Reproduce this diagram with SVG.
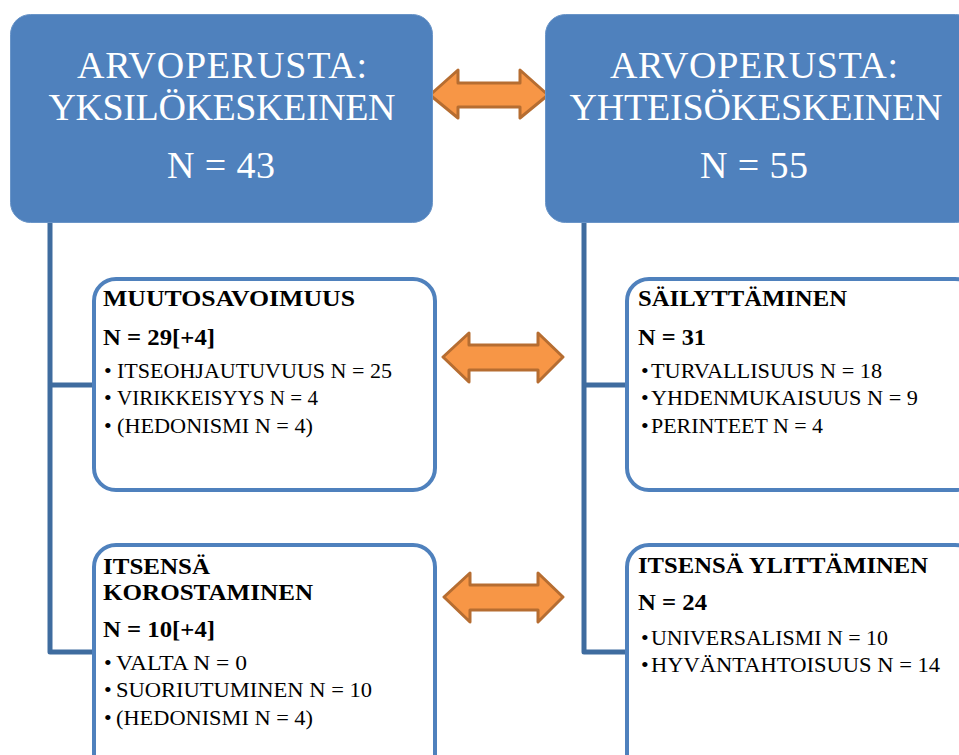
<svg xmlns="http://www.w3.org/2000/svg" width="959" height="755" viewBox="0 0 959 755">
<style>
.top{fill:#4F81BD;stroke:#6A95C8;stroke-width:1}
.box{fill:#FFFFFF;stroke:#4F81BD;stroke-width:4}
.conn{fill:none;stroke:#3F6C9F;stroke-width:5;stroke-linejoin:round}
.arr{fill:#F79646;stroke:#B66D31;stroke-width:3;stroke-linejoin:round}
.tt{font-family:"Liberation Serif","Times New Roman",serif;font-size:38px;fill:#FFFFFF;text-anchor:middle}
.h{font-family:"Liberation Serif","Times New Roman",serif;font-size:24px;font-weight:bold;fill:#000000}
.b{font-family:"Liberation Serif","Times New Roman",serif;font-size:22px;fill:#000000}
</style>
<rect width="959" height="755" fill="#FFFFFF"/>
<g id="connectors">
<path class="conn" d="M50,222 V652 H95 M50,385 H95"/>
<path class="conn" d="M584,222 V652 H628 M584,385 H628"/>
</g>
<g id="arrows">
<path class="arr" d="M430,95 L458,70 L458,83 L520,83 L520,70 L548,95 L520,118 L520,107 L458,107 L458,118 Z"/>
<path class="arr" d="M443,357 L469,333 L469,345 L538,345 L538,333 L563,357 L538,382 L538,370 L469,370 L469,382 Z"/>
<path class="arr" d="M444,597 L470,573 L470,585 L538,585 L538,573 L563,597 L538,622 L538,610 L470,610 L470,622 Z"/>
</g>
<g id="node-yksilo">
<rect class="top" x="10.5" y="14.5" width="422" height="208" rx="20"/>
<text class="tt" x="222" y="78" textLength="290">ARVOPERUSTA:</text>
<text class="tt" x="222" y="120" textLength="347">YKSILÖKESKEINEN</text>
<text class="tt" x="221" y="178" textLength="108">N = 43</text>
</g>
<g id="node-yhteiso">
<rect class="top" x="545.5" y="14.5" width="430" height="208" rx="20"/>
<text class="tt" x="754" y="78" textLength="288">ARVOPERUSTA:</text>
<text class="tt" x="756" y="120" textLength="373">YHTEISÖKESKEINEN</text>
<text class="tt" x="754" y="178" textLength="108">N = 55</text>
</g>
<g id="node-muutosavoimuus">
<rect class="box" x="94" y="279" width="341" height="211" rx="22"/>
<text class="h" x="103" y="306" textLength="252" lengthAdjust="spacingAndGlyphs">MUUTOSAVOIMUUS</text>
<text class="h" x="103" y="345" textLength="112" lengthAdjust="spacingAndGlyphs">N = 29[+4]</text>
<text class="b" x="104" y="378">•</text><text class="b" x="117" y="378" textLength="275" lengthAdjust="spacingAndGlyphs">ITSEOHJAUTUVUUS N = 25</text>
<text class="b" x="104" y="405">•</text><text class="b" x="117" y="405" textLength="201" lengthAdjust="spacingAndGlyphs">VIRIKKEISYYS N = 4</text>
<text class="b" x="104" y="433">•</text><text class="b" x="117" y="433" textLength="196" lengthAdjust="spacingAndGlyphs">(HEDONISMI N = 4)</text>
</g>
<g id="node-sailyttaminen">
<rect class="box" x="627" y="279" width="350" height="211" rx="22"/>
<text class="h" x="638" y="306" textLength="209" lengthAdjust="spacingAndGlyphs">SÄILYTTÄMINEN</text>
<text class="h" x="638" y="345" textLength="68" lengthAdjust="spacingAndGlyphs">N = 31</text>
<text class="b" x="641" y="378">•</text><text class="b" x="651" y="378" textLength="231" lengthAdjust="spacingAndGlyphs">TURVALLISUUS N = 18</text>
<text class="b" x="641" y="405">•</text><text class="b" x="651" y="405" textLength="267" lengthAdjust="spacingAndGlyphs">YHDENMUKAISUUS N = 9</text>
<text class="b" x="641" y="433">•</text><text class="b" x="651" y="433" textLength="172" lengthAdjust="spacingAndGlyphs">PERINTEET N = 4</text>
</g>
<g id="node-korostaminen">
<rect class="box" x="94" y="545" width="341" height="240" rx="22"/>
<text class="h" x="103" y="574" textLength="107" lengthAdjust="spacingAndGlyphs">ITSENSÄ</text>
<text class="h" x="103" y="600" textLength="210" lengthAdjust="spacingAndGlyphs">KOROSTAMINEN</text>
<text class="h" x="103" y="637" textLength="112" lengthAdjust="spacingAndGlyphs">N = 10[+4]</text>
<text class="b" x="104" y="670">•</text><text class="b" x="116" y="670" textLength="131" lengthAdjust="spacingAndGlyphs">VALTA N = 0</text>
<text class="b" x="104" y="697">•</text><text class="b" x="116" y="697" textLength="256" lengthAdjust="spacingAndGlyphs">SUORIUTUMINEN N = 10</text>
<text class="b" x="104" y="725">•</text><text class="b" x="116" y="725" textLength="197" lengthAdjust="spacingAndGlyphs">(HEDONISMI N = 4)</text>
</g>
<g id="node-ylittaminen">
<rect class="box" x="627" y="545" width="350" height="240" rx="22"/>
<text class="h" x="638" y="573" textLength="290" lengthAdjust="spacingAndGlyphs">ITSENSÄ YLITTÄMINEN</text>
<text class="h" x="638" y="610" textLength="69" lengthAdjust="spacingAndGlyphs">N = 24</text>
<text class="b" x="641" y="645">•</text><text class="b" x="651" y="645" textLength="237" lengthAdjust="spacingAndGlyphs">UNIVERSALISMI N = 10</text>
<text class="b" x="641" y="672">•</text><text class="b" x="651" y="672" textLength="289" lengthAdjust="spacingAndGlyphs">HYVÄNTAHTOISUUS N = 14</text>
</g>
</svg>
